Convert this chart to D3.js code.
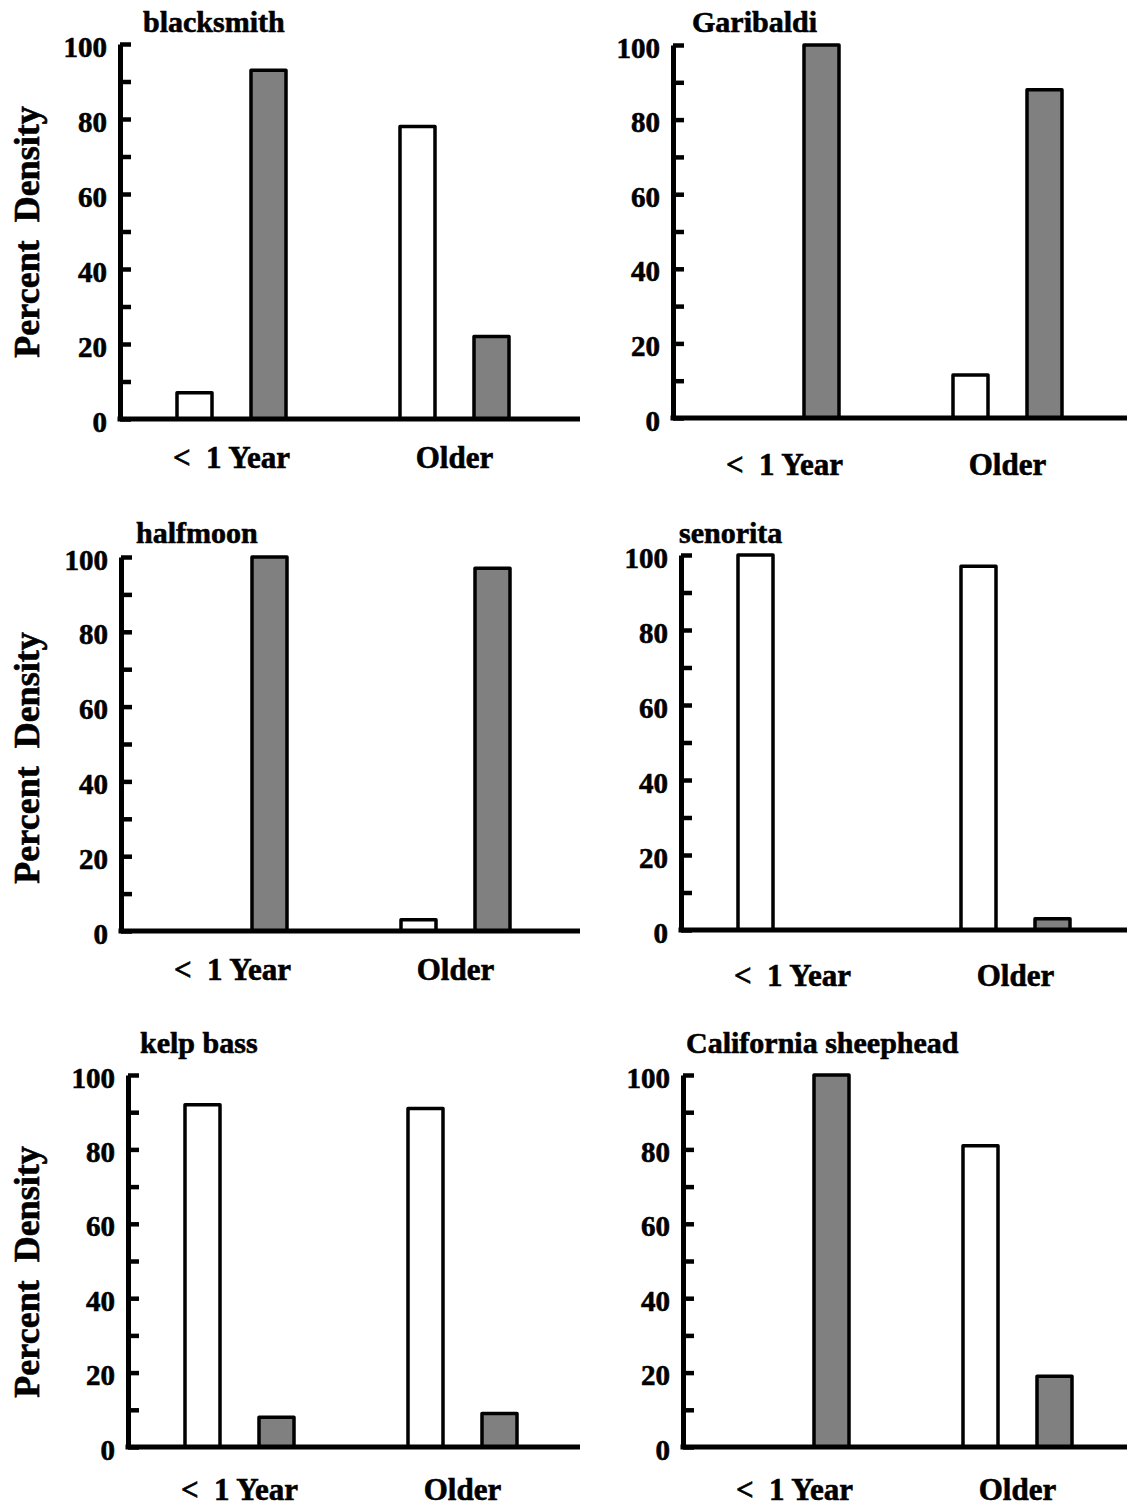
<!DOCTYPE html>
<html>
<head>
<meta charset="utf-8">
<script src="https://cdn.jsdelivr.net/npm/d3@7"></script>
<style>
  html, body { margin: 0; padding: 0; background: #fff; }
  svg text {
    font-family: "Liberation Serif", "Times New Roman", Times, serif;
    font-weight: bold;
    fill: #000;
    stroke: #000;
    stroke-width: 0.6px;
    white-space: pre;
  }
</style>
</head>
<body>
<svg id="chart" width="1127" height="1507"></svg>
<script>
// ---- data ----
const species = ["blacksmith", "Garibaldi", "halfmoon", "senorita", "kelp bass", "California sheephead"];
const ageClasses = ["<  1 Year", "Older"];
const seriesNames = ["open", "shaded"];
// percent density per species: [< 1 Year, Older]
const openValues   = [[7, 78], [0, 11.5], [0, 3], [100, 97], [92, 91], [0, 81]];
const shadedValues = [[93, 22], [100, 88], [100, 97], [0, 3], [8, 9], [100, 19]];
const yTickValues  = [0, 10, 20, 30, 40, 50, 60, 70, 80, 90, 100];
const yTickLabels  = [0, 20, 40, 60, 80, 100];
const yTitle = "Percent  Density";

// ---- panel frames (left axis x, baseline end, y of 100, y of 0) ----
const frames = [
  { left: 120, right: 580,  top: 44,   bottom: 419,  titleX: 143, titleY: 32,   labelBase: 49, yTitleY: 232 },
  { left: 673, right: 1127, top: 45,   bottom: 418,  titleX: 692, titleY: 32,   labelBase: 57, yTitleY: null },
  { left: 121, right: 580,  top: 557,  bottom: 931,  titleX: 136, titleY: 543,  labelBase: 49, yTitleY: 758 },
  { left: 681, right: 1127, top: 555,  bottom: 930,  titleX: 679, titleY: 543,  labelBase: 56, yTitleY: null },
  { left: 128, right: 580,  top: 1075, bottom: 1447, titleX: 140, titleY: 1053, labelBase: 53, yTitleY: 1272 },
  { left: 683, right: 1127, top: 1075, bottom: 1447, titleX: 686, titleY: 1053, labelBase: 53, yTitleY: null }
];

const svg = d3.select("#chart");
svg.append("rect").attr("width", 1127).attr("height", 1507).attr("fill", "#fff");

species.forEach((name, i) => {
  const f = frames[i];
  const g = svg.append("g").attr("class", "panel");

  const y = d3.scaleLinear().domain([0, 100]).range([f.bottom, f.top]);
  const x = d3.scaleBand().domain(ageClasses).range([f.left, f.left + 446]);
  const half = x.bandwidth() / 2;
  const xs = d3.scaleBand().domain(seriesNames)
    .range([half - 74, half + 74])
    .paddingInner(0.527)
    .paddingOuter(0.2635);

  const rows = ageClasses.map((age, j) => ({
    age,
    values: [
      { key: "open", v: openValues[i][j] },
      { key: "shaded", v: shadedValues[i][j] }
    ]
  }));

  // bars
  const groups = g.selectAll("g.age").data(rows).join("g")
    .attr("class", "age")
    .attr("transform", d => `translate(${x(d.age)},0)`);
  groups.selectAll("rect").data(d => d.values.filter(e => e.v > 0)).join("rect")
    .attr("x", d => xs(d.key))
    .attr("width", xs.bandwidth())
    .attr("y", d => y(d.v))
    .attr("height", d => y(0) - y(d.v))
    .attr("fill", d => d.key === "open" ? "#ffffff" : "#808080")
    .attr("stroke", "#000")
    .attr("stroke-width", 3.5)
    .attr("stroke-linejoin", "round");

  // y axis with inward ticks
  const yAxis = d3.axisLeft(y)
    .tickValues(yTickValues)
    .tickSize(-11)
    .tickSizeOuter(0)
    .tickPadding(13)
    .tickFormat(d => yTickLabels.includes(d) ? String(d) : "");
  const ya = g.append("g").attr("transform", `translate(${f.left},0)`).call(yAxis);
  ya.attr("font-family", null).attr("font-size", null);
  ya.select(".domain").attr("stroke", "#000").attr("stroke-width", 5);
  ya.selectAll(".tick line").attr("stroke", "#000").attr("stroke-width", 4.5);
  ya.selectAll(".tick text").style("font-size", "29px").attr("dy", "0.42em");

  // x axis labels
  const xAxis = d3.axisBottom(x).tickSize(0).tickPadding(f.labelBase);
  const xa = g.append("g").attr("transform", `translate(0,${f.bottom})`).call(xAxis);
  xa.attr("font-family", null).attr("font-size", null);
  xa.select(".domain").remove();
  xa.selectAll(".tick text").style("font-size", "31px").attr("dy", "0");

  // baseline
  g.append("line")
    .attr("x1", f.left - 2.5).attr("x2", f.right)
    .attr("y1", y(0)).attr("y2", y(0))
    .attr("stroke", "#000").attr("stroke-width", 5);

  // species title
  g.append("text")
    .attr("x", f.titleX).attr("y", f.titleY)
    .style("font-size", "30px")
    .text(name);

  // y axis title on the left column
  if (f.yTitleY !== null) {
    g.append("text")
      .attr("transform", `translate(39,${f.yTitleY}) rotate(-90)`)
      .attr("text-anchor", "middle")
      .style("font-size", "36px")
      .text(yTitle);
  }
});
</script>
</body>
</html>
